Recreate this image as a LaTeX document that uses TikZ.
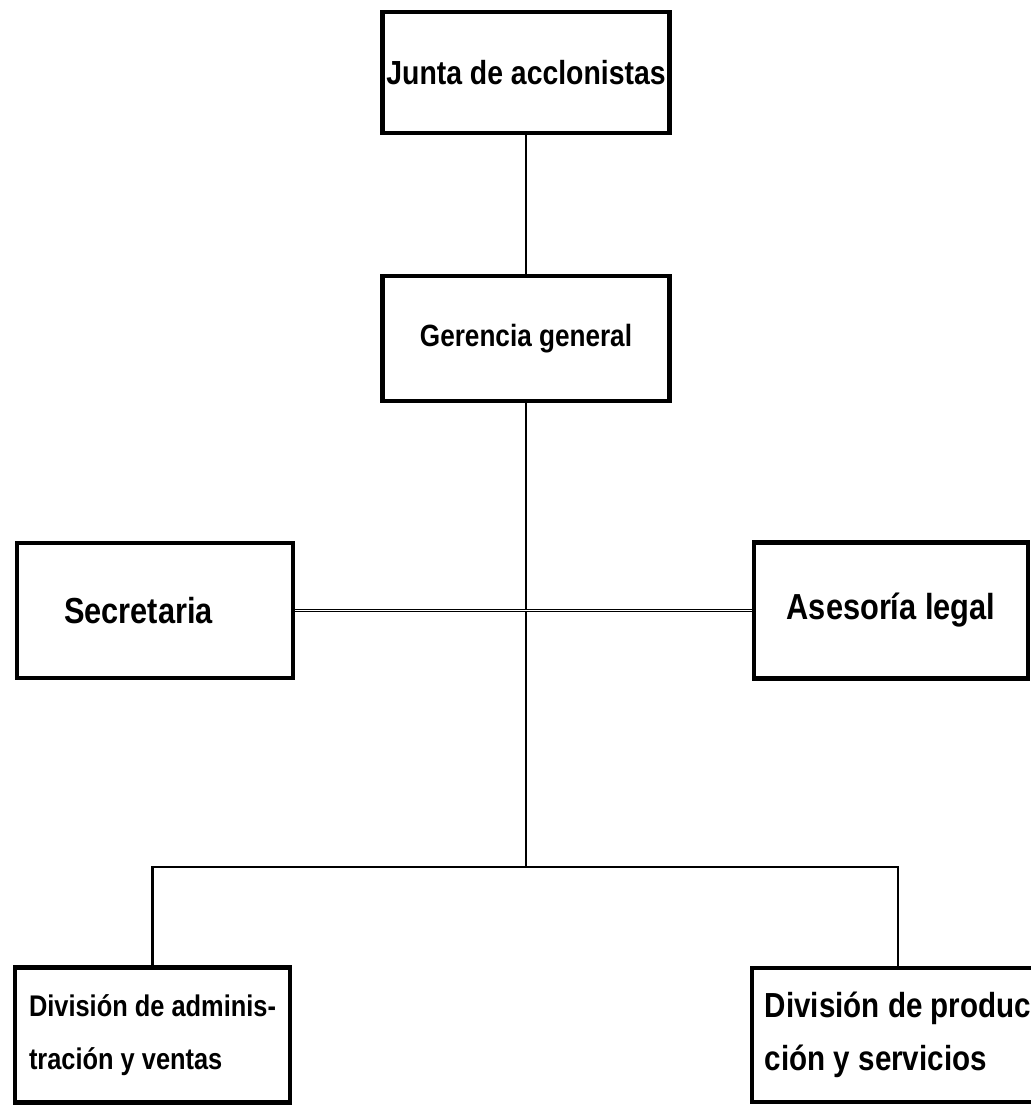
\documentclass[tikz,border=0pt]{standalone}
\usepackage{fontspec}
\newfontfamily\letterfont[FakeStretch=0.85]{Liberation Sans}
\usetikzlibrary{positioning}

\begin{document}
\begin{tikzpicture}[
    on grid,
    orgbox/.style={rectangle, draw, line width=2.3pt, align=left, inner sep=2pt,
        font=\letterfont\bfseries\fontsize{#1}{30}\selectfont},
    link/.style={line width=1.6pt},
    bar/.style={line width=1.2pt},
    staffline/.style={double, double distance=0.8pt, line width=0.6pt}
]
\useasboundingbox (0,0) rectangle (20.6,-22.12);

% Board and general management
\node[orgbox=19, minimum width=5.74cm, minimum height=2.42cm] (junta) at (10.52,-1.45) {Junta de acclonistas};
\node[orgbox=17.5, minimum width=5.74cm, minimum height=2.5cm, below=5.32cm of junta] (gerencia) {Gerencia general};

% Staff units
\node[orgbox=20.6, text width=3.64cm, minimum width=5.52cm, minimum height=2.7cm, below left=5.44cm and 7.42cm of gerencia] (secretaria) {Secretaria};
\node[orgbox=20.6, minimum width=5.48cm, minimum height=2.72cm, below right=5.44cm and 7.3cm of gerencia] (asesoria) {Asesoría legal};

% Divisions
\node[orgbox=17, minimum width=5.5cm, minimum height=2.7cm, below left=13.93cm and 7.47cm of gerencia] (divadmin) {División de adminis-\\tración y ventas};
\node[orgbox=19.8, minimum width=5.84cm, minimum height=2.68cm, below right=13.93cm and 7.44cm of gerencia] (divprod) {División de produc\\ción y servicios};

\coordinate[below=10.57cm of gerencia] (bus);

% Connectors
\draw[link] (junta) -- (gerencia);
\draw[link] (gerencia) -- (bus);
\draw[staffline] (secretaria) -- (asesoria);
\draw[bar] (divadmin) |- (bus) -| (divprod);

\end{tikzpicture}
\end{document}
